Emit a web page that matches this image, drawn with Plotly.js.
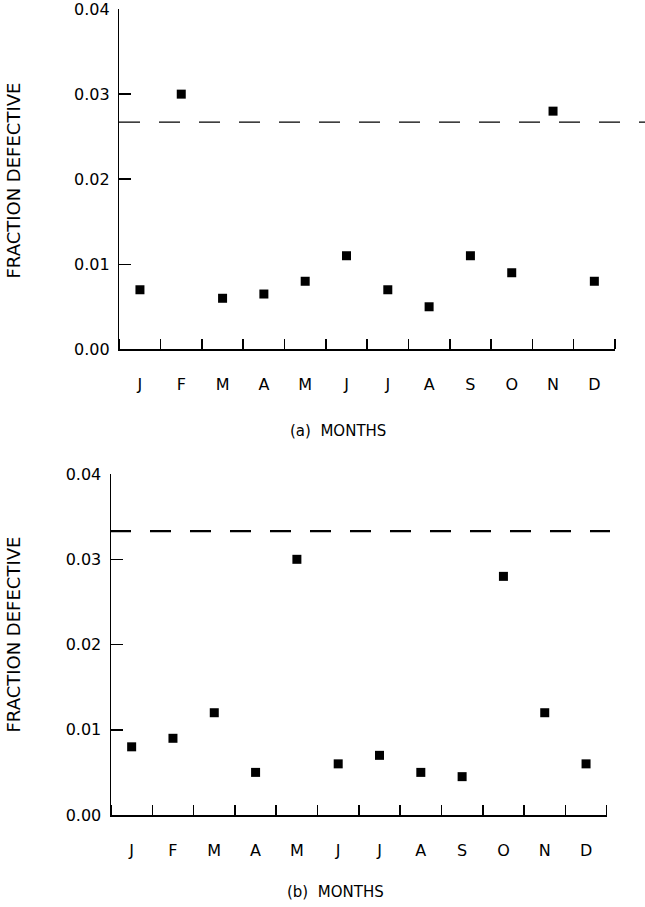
<!DOCTYPE html>
<html><head><meta charset="utf-8">
<script src="https://cdn.plot.ly/plotly-3.0.1.min.js"></script>
<style>html,body{margin:0;padding:0;background:#fff}</style>
</head><body><div id="chart" style="width:645px;height:907px"></div>
<script>
// ---- data ----
const months = ['J','F','M','A','M','J','J','A','S','O','N','D'];
const monthIndex = [1,2,3,4,5,6,7,8,9,10,11,12];
const defectsA = [0.007,0.030,0.006,0.0065,0.008,0.011,0.007,0.005,0.011,0.009,0.028,0.008];
const defectsB = [0.008,0.009,0.012,0.005,0.030,0.006,0.007,0.005,0.0045,0.028,0.012,0.006];
const limits = [0.0267, 0.0333];
const yTicks = [0,0.01,0.02,0.03,0.04];
const yTickText = ['0.00','0.01','0.02','0.03','0.04'];
const panelTitles = ['(a)\u00a0\u00a0MONTHS','(b)\u00a0\u00a0MONTHS'];
const yTitle = 'FRACTION DEFECTIVE';

// ---- layout helpers ----
const W = 645, H = 907;
const px = v => v / W;
const py = v => (H - v) / H;
const FONT = 'DejaVu Sans';
const boundaries = monthIndex.map(i => i - 0.5).concat([monthIndex.length + 0.5]);
const YMAX = 0.04001;

function xAxis(l, r, anchor) {
  return {
    domain: [px(l), px(r)], range: [0.5, 12.5], anchor: anchor,
    tickmode: 'array', tickvals: monthIndex, ticktext: months, ticks: '',
    showline: true, linecolor: '#000', linewidth: 1.5,
    showgrid: false, zeroline: false, ticklabelstandoff: 20,
    ticklabeloverflow: 'allow',
    tickfont: {family: FONT, size: 16, color: '#000'},
    minor: {tickvals: boundaries, ticks: 'inside', ticklen: 10, tickwidth: 1.5, tickcolor: '#000', showgrid: false},
    fixedrange: true
  };
}
function yAxis(bottom, top, anchor) {
  return {
    domain: [py(bottom), py(top)], range: [0, YMAX], anchor: anchor,
    tickmode: 'array', tickvals: yTicks, ticktext: yTickText,
    ticks: 'inside', ticklen: 12, tickwidth: 1.5, tickcolor: '#000',
    showline: true, linecolor: '#000', linewidth: 1.5,
    showgrid: false, zeroline: false, ticklabelstandoff: 5,
    ticklabeloverflow: 'allow',
    tickfont: {family: FONT, size: 16, color: '#000'},
    fixedrange: true
  };
}

const marker = {symbol: 'square', size: 9, color: '#000'};
const traces = [
  {x: monthIndex, y: defectsA, xaxis: 'x', yaxis: 'y', type: 'scatter', mode: 'markers', marker: marker, cliponaxis: false},
  {x: monthIndex, y: defectsB, xaxis: 'x2', yaxis: 'y2', type: 'scatter', mode: 'markers', marker: marker, cliponaxis: false}
];

const layout = {
  width: W, height: H, margin: {l: 0, r: 0, t: 0, b: 0},
  paper_bgcolor: '#fff', plot_bgcolor: 'rgba(0,0,0,0)', showlegend: false,
  xaxis: xAxis(119.3, 615, 'y'),
  yaxis: yAxis(349.3, 9, 'x'),
  xaxis2: xAxis(111, 606.7, 'y2'),
  yaxis2: yAxis(815, 474, 'x2'),
  shapes: [
    {type: 'line', xref: 'paper', yref: 'y', x0: px(119), x1: 1, y0: limits[0], y1: limits[0],
     line: {color: '#000', width: 1.3, dash: '21px,19px'}},
    {type: 'line', xref: 'paper', yref: 'y2', x0: px(110), x1: px(610), y0: limits[1], y1: limits[1],
     line: {color: '#000', width: 2.2, dash: '21px,19px'}}
  ],
  annotations: [
    {text: yTitle, xref: 'paper', yref: 'paper', x: px(12.5), y: py(181), textangle: -90, showarrow: false,
     xanchor: 'center', yanchor: 'middle', font: {family: FONT, size: 18, color: '#000'}},
    {text: yTitle, xref: 'paper', yref: 'paper', x: px(12.5), y: py(635), textangle: -90, showarrow: false,
     xanchor: 'center', yanchor: 'middle', font: {family: FONT, size: 18, color: '#000'}},
    {text: panelTitles[0], xref: 'paper', yref: 'paper', x: px(338), y: py(431), showarrow: false,
     xanchor: 'center', yanchor: 'middle', font: {family: FONT, size: 15, color: '#000'}},
    {text: panelTitles[1], xref: 'paper', yref: 'paper', x: px(335), y: py(892), showarrow: false,
     xanchor: 'center', yanchor: 'middle', font: {family: FONT, size: 15, color: '#000'}}
  ]
};

Plotly.newPlot('chart', traces, layout, {staticPlot: true, displayModeBar: false});
</script>
</body></html>
